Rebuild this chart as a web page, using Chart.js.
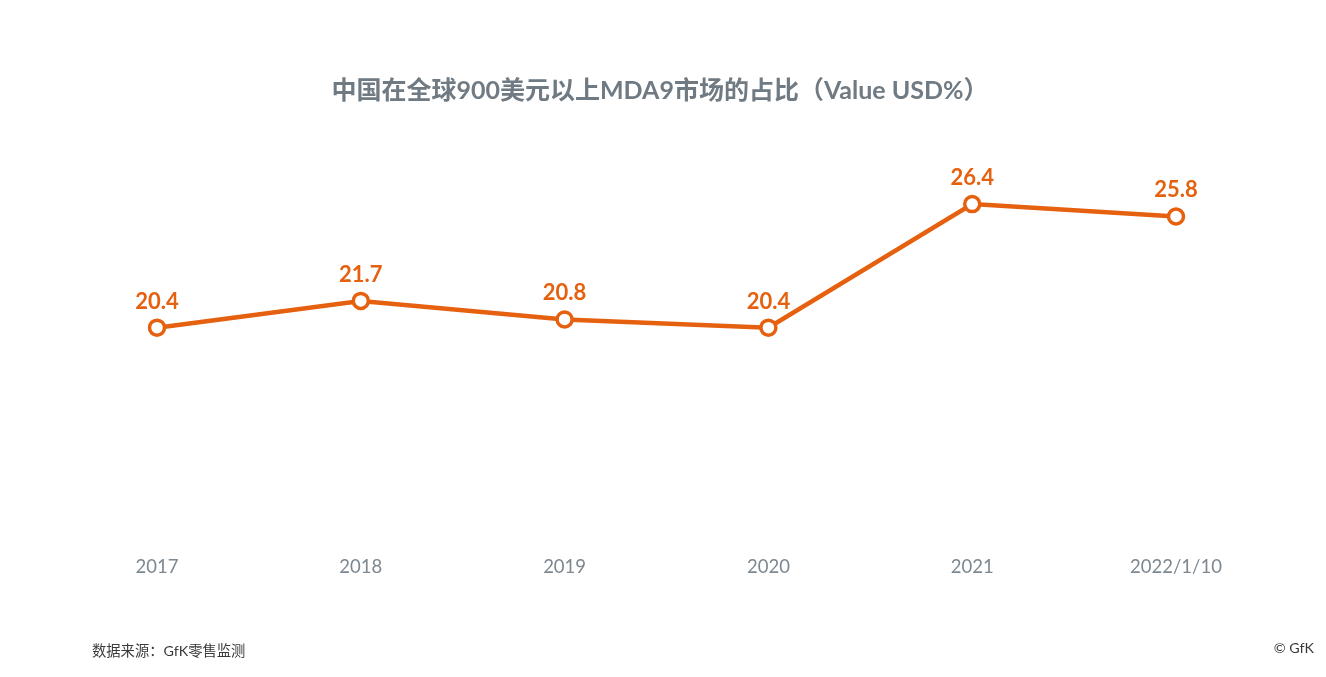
<!DOCTYPE html>
<html>
<head>
<meta charset="utf-8">
<script src="https://cdn.jsdelivr.net/npm/chart.js@4"></script>
<style>
  body { margin: 0; background: #fff; font-family: Lato, "Noto Sans CJK SC", sans-serif; }
  #wrap { position: relative; width: 1326px; height: 677px; }
  .note { position: absolute; top: 639px; font-size: 14.3px; color: #3a3a3a; }
</style>
</head>
<body>
<div id="wrap">
  <canvas id="share-chart" width="1326" height="677"></canvas>
  <div class="note" style="left:92px;">数据来源：GfK零售监测</div>
  <div class="note" style="right:12px;">© GfK</div>
</div>
<script>
// --- Data ---
const years = ['2017', '2018', '2019', '2020', '2021', '2022/1/10'];
const shareValues = [20.4, 21.7, 20.8, 20.4, 26.4, 25.8];
const chartTitle = '中国在全球900美元以上MDA9市场的占比（Value USD%）';

const ORANGE = '#e5600f';
const GREY = '#6f7a83';

// title + value labels drawn on the canvas
const labelPlugin = {
    id: 'labelPlugin',
    afterDatasetsDraw(chart) {
        const ctx = chart.ctx;
        ctx.save();
        ctx.fillStyle = GREY;
        ctx.font = 'bold 25px Lato, "Noto Sans CJK SC", sans-serif';
        ctx.textAlign = 'center';
        ctx.textBaseline = 'middle';
        ctx.fillText(chartTitle, 660, 91);

        ctx.fillStyle = ORANGE;
        ctx.font = 'bold 22px Lato, sans-serif';
        ctx.textBaseline = 'alphabetic';
        chart.getDatasetMeta(0).data.forEach((pt, i) => {
            ctx.fillText(shareValues[i].toFixed(1), pt.x, pt.y - 19);
        });
        ctx.restore();
    }
};

function initializeChart() {
    const ctx = document.getElementById('share-chart').getContext('2d');
    new Chart(ctx, {
        type: 'line',
        data: {
            labels: years,
            datasets: [{
                data: shareValues,
                borderColor: ORANGE,
                borderWidth: 4.5,
                pointRadius: 7.5,
                pointHoverRadius: 7.5,
                pointBorderWidth: 3.5,
                pointBackgroundColor: '#fff',
                pointBorderColor: ORANGE,
                tension: 0
            }]
        },
        options: {
            responsive: false,
            animation: false,
            layout: { padding: { left: 157, right: 150, top: 130, bottom: 93 } },
            plugins: { legend: { display: false }, tooltip: { enabled: false } },
            scales: {
                x: {
                    grid: { display: false },
                    border: { display: false },
                    ticks: { color: '#7d8891', font: { family: 'Lato', size: 18.5 }, padding: 6, maxRotation: 0 }
                },
                y: { display: false, min: 10, max: 30 }
            }
        },
        plugins: [labelPlugin]
    });
}

initializeChart();
</script>
</body>
</html>
